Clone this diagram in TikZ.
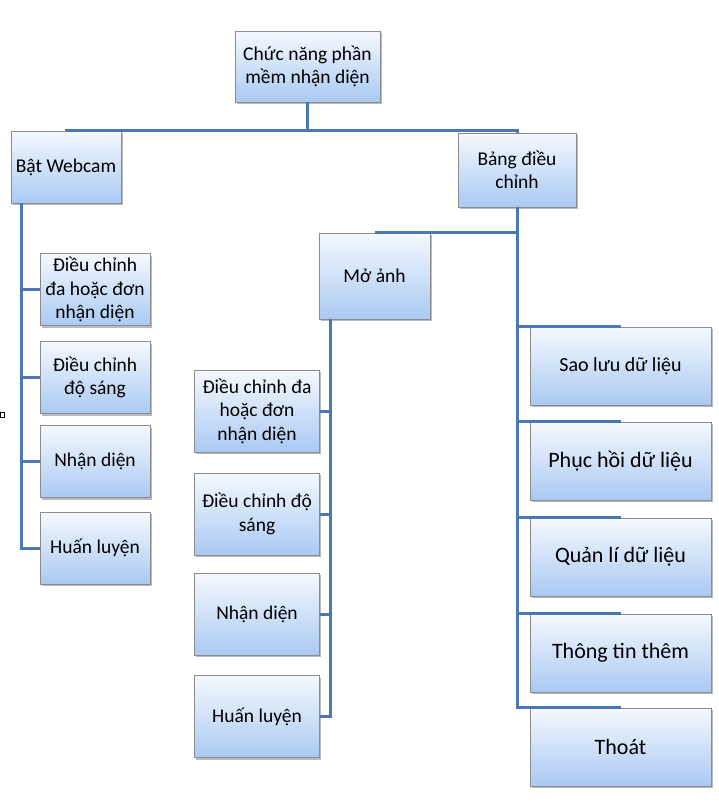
\documentclass[tikz,border=0pt]{standalone}
\usepackage{fontspec}
\setmainfont{Carlito}
\usetikzlibrary{positioning, calc, shadows}
\definecolor{nhanhblue}{RGB}{74, 120, 180}
\definecolor{hopvien}{RGB}{140, 140, 140}
\definecolor{hoptren}{RGB}{245, 249, 254}
\definecolor{hopduoi}{RGB}{170, 201, 243}
\tikzset{
  chucbox/.style={draw=hopvien, line width=0.6pt, top color=hoptren, bottom color=hopduoi,
    align=center, inner sep=2pt, font=\fontsize{19.5}{23.5}\selectfont,
    drop shadow={shadow xshift=1.5pt, shadow yshift=-2pt, opacity=0.45, fill=black!60}},
  leftbox/.style={chucbox, minimum width=110pt, minimum height=72pt},
  midbox/.style={chucbox, minimum width=125pt, minimum height=82pt},
  rightbox/.style={chucbox, minimum width=181pt, minimum height=78pt, font=\fontsize{22}{26}\selectfont},
  nhanh/.style={draw=nhanhblue, line width=3pt}
}

\begin{document}
\begin{tikzpicture}[x=1pt, y=-1pt]
  \useasboundingbox (0,0) rectangle (719,803);

  % Top levels
  \node[chucbox, minimum width=145pt, minimum height=71pt] (root) at (307.5, 66.5) {Chức năng phần\\mềm nhận diện};
  \node[chucbox, minimum width=110pt, minimum height=72pt] (webcam) at (66, 167) {Bật Webcam};
  \node[chucbox, minimum width=118pt, minimum height=74pt] (bang) at (517, 170) {Bảng điều\\chỉnh};
  \node[chucbox, minimum width=111pt, minimum height=86pt] (moanh) at (374.5, 276) {Mở ảnh};

  % Webcam branch
  \node[leftbox] (wdieu) at (95, 289.5) {Điều chỉnh\\đa hoặc đơn\\nhận diện};
  \node[leftbox] (wsang) at (95, 377.5) {Điều chỉnh\\độ sáng};
  \node[leftbox] (wnhan) at (95, 461.5) {Nhận diện};
  \node[leftbox] (whuan) at (95, 548) {Huấn luyện};

  % Open image branch
  \node[midbox] (mdieu) at (257, 411) {Điều chỉnh đa\\hoặc đơn\\nhận diện};
  \node[midbox] (msang) at (257, 514) {Điều chỉnh độ\\sáng};
  \node[midbox] (mnhan) at (257, 614) {Nhận diện};
  \node[midbox] (mhuan) at (257, 716.5) {Huấn luyện};

  % Control panel branch
  \node[rightbox, font=\fontsize{20}{24}\selectfont] (saoluu) at (620.5, 366) {Sao lưu dữ liệu};
  \node[rightbox] (phuchoi) at (620.5, 461) {Phục hồi dữ liệu};
  \node[rightbox] (quanli) at (620.5, 557) {Quản lí dữ liệu};
  \node[rightbox] (thongtin) at (620.5, 653) {Thông tin thêm};
  \node[rightbox] (thoat) at (620.5, 747) {Thoát};

  % Connectors
  \draw[nhanh] (root.south) -- ++(0,28) -| (webcam.north);
  \draw[nhanh] (root.south) -- ++(0,28) -| (bang.north);
  \draw[nhanh] (bang.south) |- (moanh.north);
  \foreach \con in {saoluu, phuchoi, quanli, thongtin, thoat}
    \draw[nhanh] (bang.south) |- (\con.north);
  \foreach \con in {wdieu, wsang, wnhan, whuan}
    \draw[nhanh] ($(webcam.south west)+(11,0)$) |- (\con.west);
  \foreach \con in {mdieu, msang, mnhan, mhuan}
    \draw[nhanh] ($(moanh.south west)+(12,0)$) |- (\con.east);

  % stray mark
  \draw[line width=0.6pt] (0.8,412) rectangle (4,417);
\end{tikzpicture}
\end{document}
